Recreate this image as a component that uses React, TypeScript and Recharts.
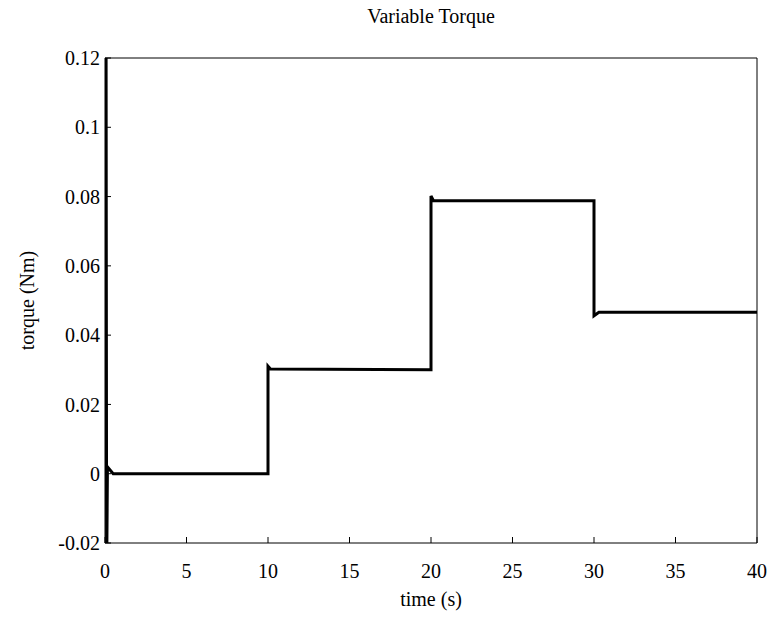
import { Label, Line, LineChart, XAxis, YAxis } from 'recharts';

// sampled torque trace (s, Nm) – steps every 10 s with small overshoot at each edge
const time = [0, 0.06, 0.1, 0.15, 0.5, 10, 10, 10.15, 20, 20, 20.15, 30, 30, 30.3, 40];
const torque = [0, 0.15, -0.03, 0.002, 0, 0, 0.031, 0.0302, 0.0300, 0.0802, 0.0788, 0.0788, 0.0456, 0.0466, 0.0466];

const xTicks = [0, 5, 10, 15, 20, 25, 30, 35, 40];
const yTicks = [-0.02, 0, 0.02, 0.04, 0.06, 0.08, 0.1, 0.12];

const data = time.map((t, i) => ({ t, v: torque[i] }));

const SERIF = '"Liberation Serif", "Times New Roman", serif';
const FONT = { fontFamily: SERIF, fontSize: 20, fill: '#000' };

// own tick text so the serif face is really used
const tickText = (dy: string) => (props: any) => {
  const { x, y, payload, textAnchor } = props;
  return (
    <text x={x} y={y} dy={dy} textAnchor={textAnchor} style={FONT}>
      {String(payload.value)}
    </text>
  );
};

export default function App() {
  return (
    <div
      style={{
        position: 'absolute',
        left: 0,
        top: 0,
        width: 771,
        height: 619,
        background: '#fff',
        fontFamily: SERIF,
      }}
    >
      <LineChart width={771} height={619} data={data} margin={{ top: 57, right: 13, bottom: 75, left: 104 }}>
        <XAxis
          dataKey="t"
          type="number"
          domain={[0, 40]}
          ticks={xTicks}
          height={1}
          tickSize={-6}
          tickMargin={27}
          tick={tickText('0.71em')}
          stroke="#000"
          allowDataOverflow
        >
          <Label value="time (s)" position="bottom" offset={48} style={FONT} />
        </XAxis>
        <XAxis
          xAxisId="top"
          orientation="top"
          type="number"
          domain={[0, 40]}
          ticks={xTicks}
          height={1}
          tickSize={-6}
          tick={false}
          stroke="#000"
        >
          <Label value="Variable Torque" position="top" offset={34} style={FONT} />
        </XAxis>
        <YAxis
          type="number"
          domain={[-0.02, 0.12]}
          ticks={yTicks}
          width={1}
          tickSize={-6}
          tickMargin={11}
          tick={tickText('0.355em')}
          stroke="#000"
          allowDataOverflow
        >
          <Label
            value="torque (Nm)"
            position="left"
            angle={-90}
            offset={77}
            style={{ ...FONT, textAnchor: 'middle' }}
          />
        </YAxis>
        <YAxis
          yAxisId="right"
          orientation="right"
          type="number"
          domain={[-0.02, 0.12]}
          ticks={yTicks}
          width={1}
          tickSize={-6}
          tick={false}
          stroke="#000"
        />
        <Line
          type="linear"
          dataKey="v"
          stroke="#000"
          strokeWidth={3}
          dot={false}
          isAnimationActive={false}
        />
      </LineChart>
    </div>
  );
}
